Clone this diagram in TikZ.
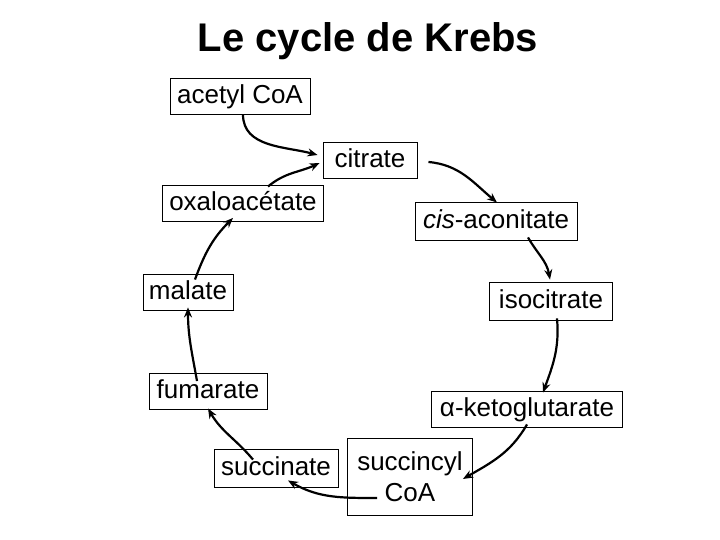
\documentclass[tikz,border=0pt]{standalone}
\usepackage{fontspec}
\setmainfont{Liberation Sans}
\usetikzlibrary{arrows.meta, calc, positioning}

\tikzset{
  box/.style={draw, line width=0.9pt, inner xsep=6pt, minimum height=36pt,
    text height=19pt, text depth=4pt, font=\fontsize{26}{31}\selectfont},
  step arrow/.style={line width=2.2pt, -{Stealth[length=10pt,width=8pt]}}
}

\begin{document}
\begin{tikzpicture}[x=1pt, y=1pt]
  \useasboundingbox (0,0) rectangle (720,540);

  % title
  \node (title) at (368,499) {\fontsize{40}{48}\selectfont\bfseries Le cycle de Krebs};

  % compounds
  \node[box, minimum width=140pt] (acetyl) at (240,444) {acetyl CoA};
  \node[box, minimum width=94pt] (citrate) at (370,380) {citrate};
  \node[box, minimum width=161pt] (oxalo) at (243,337) {oxaloacétate};
  \node[box, minimum width=162pt, minimum height=38pt] (cisacon) at (496,319) {\textit{cis}-aconitate};
  \node[box, minimum width=90pt] (malate) at (188,248) {malate};
  \node[box, minimum width=123pt, minimum height=38pt] (isocit) at (551,239) {isocitrate};
  \node[box, minimum width=118pt] (fumarate) at (208,149) {fumarate};
  \node[box, minimum width=191pt] (aketo) at (527,131) {α-ketoglutarate};
  \node[box, minimum width=124pt, minimum height=38pt] (succinate) at (276,72) {succinate};
  \node[box, minimum width=125pt, minimum height=77pt, text height=, text depth=,
    align=center] (succoa) at (410,63) {succincyl\\CoA};

  % arrows round the cycle
  \draw[step arrow] ([shift={(3,0)}]acetyl.south) to[out=-90, in=165] ([shift={(-5,5)}]citrate.west);
  \draw[step arrow] ([shift={(25,-2)}]oxalo.north) to[out=40, in=205] ([shift={(-3,-3)}]citrate.west);
  \draw[step arrow] ([shift={(11,-2)}]citrate.east) to[out=-5, in=140] ([shift={(1,-1)}]cisacon.north);
  \draw[step arrow] ([shift={(32,3)}]cisacon.south) to[out=-60, in=100] ([shift={(-1,2)}]isocit.north);
  \draw[step arrow] ([shift={(6,2)}]isocit.south) to[out=-85, in=70] ([shift={(16,-2)}]aketo.north);
  \draw[step arrow] ([shift={(0,3)}]aketo.south) to[out=-120, in=30] ([shift={(-10,-2)}]succoa.east);
  \draw[step arrow] ([shift={(30,-21)}]succoa.west) to[out=180, in=-30] ([shift={(12,7)}]succinate.south);
  \draw[step arrow] ([shift={(-23,-11)}]succinate.north) to[out=130, in=-60] ([shift={(0,1)}]fumarate.south);
  \draw[step arrow] ([shift={(-11,-8.5)}]fumarate.north) to[out=100, in=-90] ([shift={(0,3)}]malate.south);
  \draw[step arrow] ([shift={(7,-6)}]malate.north) to[out=70, in=225] ([shift={(-10,3.5)}]oxalo.south);
\end{tikzpicture}
\end{document}
